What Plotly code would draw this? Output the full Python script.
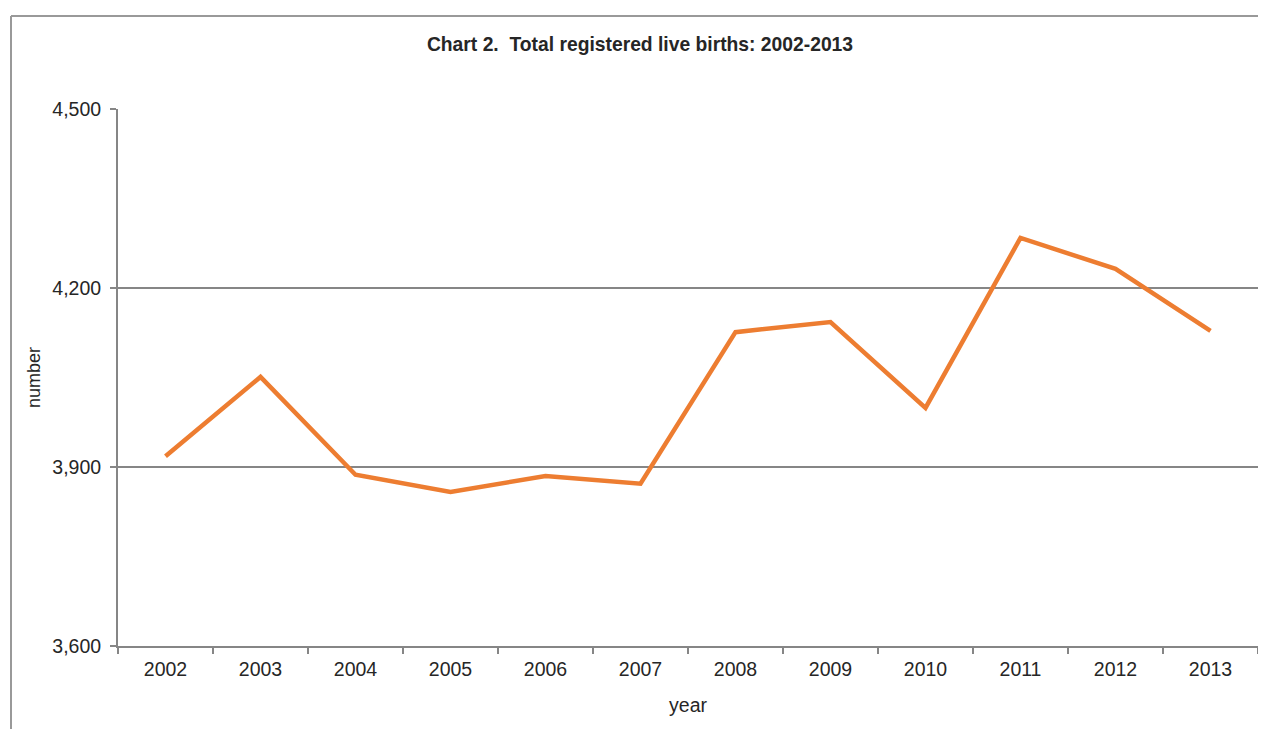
import plotly.graph_objects as go

years = ["2002", "2003", "2004", "2005", "2006", "2007", "2008", "2009", "2010", "2011", "2012", "2013"]
births = [3918, 4051, 3887, 3858, 3885, 3872, 4126, 4143, 3999, 4284, 4232, 4128]
y_ticks = [3600, 3900, 4200, 4500]

TEXT = "#262626"
AXIS = "#868686"

W, H = 1258, 721
L, T, R, B = 110, 101, 8, 83
PW, PH = W - L - R, H - T - B

fig = go.Figure()
fig.add_trace(go.Scatter(
    x=years, y=births, mode="lines",
    line=dict(color="#ED7D31", width=4.5),
    showlegend=False, hoverinfo="x+y",
))

fig.update_layout(
    width=W, height=H,
    margin=dict(l=L, r=R, t=T, b=B),
    paper_bgcolor="white", plot_bgcolor="white",
    font=dict(family="Liberation Sans, Arial, sans-serif", size=19.5, color=TEXT),
    title=dict(
        text="<b>Chart 2.  Total registered live births: 2002-2013</b>",
        x=632 / W, xanchor="center", y=1 - 36 / H, yanchor="middle",
        font=dict(size=19.3, color=TEXT),
    ),
    xaxis=dict(
        type="category", tickson="boundaries", range=[-0.5, len(years) - 0.5],
        ticks="outside", ticklen=6, tickcolor=AXIS, tickwidth=1.5,
        ticklabelstandoff=5,
        showline=True, linecolor=AXIS, linewidth=2,
        showgrid=False, tickfont=dict(size=19.5, color=TEXT),
        title=dict(text="year", font=dict(size=19.5, color=TEXT), standoff=19),
    ),
    yaxis=dict(
        range=[3600, 4500], tickvals=y_ticks, tickformat=",",
        ticks="outside", ticklen=6, tickcolor=AXIS, tickwidth=1.5,
        ticklabelstandoff=5,
        showline=True, linecolor=AXIS, linewidth=2,
        showgrid=True, gridcolor=AXIS, gridwidth=1.5, zeroline=False,
        tickfont=dict(size=19.5, color=TEXT),
        title=dict(text="number", font=dict(size=18, color=TEXT), standoff=7),
    ),
    shapes=[
        dict(type="line", xref="paper", yref="paper",
             x0=(3 - L) / PW, x1=(3 - L) / PW,
             y0=(PH + T - 8) / PH, y1=(PH + T - H - 20) / PH,
             line=dict(color="#999999", width=2)),
        dict(type="line", xref="paper", yref="paper",
             x0=(3 - L) / PW, x1=(W + 10 - L) / PW,
             y0=(PH + T - 8) / PH, y1=(PH + T - 8) / PH,
             line=dict(color="#999999", width=2)),
    ],
)

fig.write_html("out.html")
